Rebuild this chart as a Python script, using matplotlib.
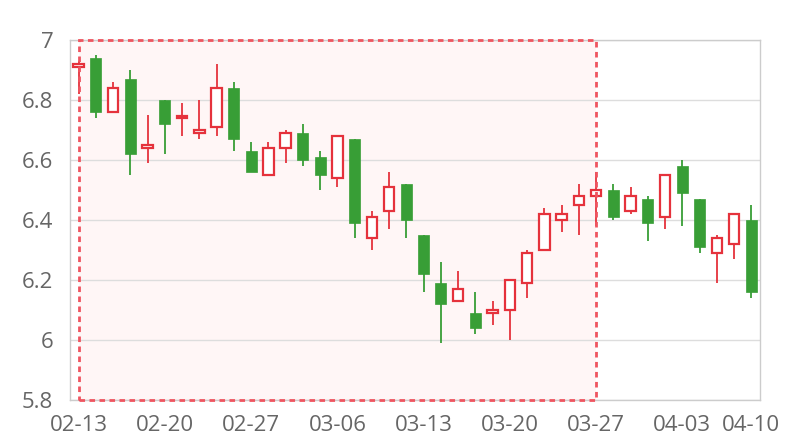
import matplotlib.pyplot as plt
from matplotlib.patches import Rectangle

plt.rcParams['font.family'] = ['Open Sans', 'DejaVu Sans']

dates = ['02-13', '02-14', '02-15', '02-16', '02-17',
         '02-20', '02-21', '02-22', '02-23', '02-24',
         '02-27', '02-28', '03-01', '03-02', '03-03',
         '03-06', '03-07', '03-08', '03-09', '03-10',
         '03-13', '03-14', '03-15', '03-16', '03-17',
         '03-20', '03-21', '03-22', '03-23', '03-24',
         '03-27', '03-28', '03-29', '03-30', '03-31',
         '04-03', '04-05', '04-06', '04-07', '04-10']

opens = [6.91, 6.94, 6.76, 6.87, 6.64, 6.80, 6.74, 6.69, 6.71, 6.84,
         6.63, 6.55, 6.64, 6.69, 6.61, 6.54, 6.67, 6.34, 6.43, 6.52,
         6.35, 6.19, 6.13, 6.09, 6.09, 6.10, 6.19, 6.30, 6.40, 6.45,
         6.48, 6.50, 6.43, 6.47, 6.41, 6.58, 6.47, 6.29, 6.32, 6.40]
closes = [6.92, 6.76, 6.84, 6.62, 6.65, 6.72, 6.745, 6.70, 6.84, 6.67,
          6.56, 6.64, 6.69, 6.60, 6.55, 6.68, 6.39, 6.41, 6.51, 6.40,
          6.22, 6.12, 6.17, 6.04, 6.10, 6.20, 6.29, 6.42, 6.42, 6.48,
          6.50, 6.41, 6.48, 6.39, 6.55, 6.49, 6.31, 6.34, 6.42, 6.16]
highs = [6.93, 6.95, 6.86, 6.90, 6.75, 6.80, 6.79, 6.80, 6.92, 6.86,
         6.66, 6.66, 6.70, 6.72, 6.63, 6.68, 6.67, 6.43, 6.56, 6.52,
         6.35, 6.26, 6.23, 6.16, 6.13, 6.20, 6.30, 6.44, 6.45, 6.52,
         6.56, 6.52, 6.51, 6.48, 6.55, 6.60, 6.47, 6.35, 6.42, 6.45]
lows = [6.82, 6.74, 6.76, 6.55, 6.59, 6.62, 6.68, 6.67, 6.68, 6.63,
        6.56, 6.55, 6.59, 6.58, 6.50, 6.51, 6.34, 6.30, 6.37, 6.34,
        6.16, 5.99, 6.13, 6.02, 6.05, 6.00, 6.14, 6.30, 6.36, 6.35,
        6.38, 6.40, 6.42, 6.33, 6.37, 6.38, 6.29, 6.19, 6.27, 6.14]

label_idx = [0, 5, 10, 15, 20, 25, 30, 35, 39]
mark_start, mark_end = '02-13', '03-27'

up_color = '#e5323c'
down_color = '#389e36'

fig = plt.figure(figsize=(8, 4.4), dpi=100)
ax = fig.add_axes([0.0875, 0.0909, 0.8625, 0.8182])

x = list(range(len(dates)))

# mark area: fill under the grid, dashed border on top
x0 = dates.index(mark_start)
x1 = dates.index(mark_end)
ax.add_patch(Rectangle((x0, 5.8), x1 - x0, 1.2, facecolor='#fff6f6',
                       edgecolor='none', zorder=0.2))
ax.add_patch(Rectangle((x0, 5.8), x1 - x0, 1.2, facecolor='none',
                       edgecolor='#ef5560', linestyle=(0, (2, 1.6)),
                       linewidth=2, zorder=4, clip_on=False))

for i in x:
    o, c, h, l = opens[i], closes[i], highs[i], lows[i]
    up = c >= o
    col = up_color if up else down_color
    ax.vlines(i, l, h, color=col, linewidth=1.3, zorder=2)
    bot = min(o, c)
    hgt = max(abs(c - o), 0.004)
    if up:
        ax.bar(i, hgt, bottom=bot, width=0.6, facecolor='white',
               edgecolor=col, linewidth=1.6, zorder=3)
    else:
        ax.bar(i, hgt, bottom=bot, width=0.64, facecolor=col,
               edgecolor=col, linewidth=0.5, zorder=3)

ax.set_xlim(-0.5, len(dates) - 0.5)
ax.set_ylim(5.8, 7.0)
yt = [5.8, 6.0, 6.2, 6.4, 6.6, 6.8, 7.0]
ax.set_yticks(yt)
ax.set_yticklabels(['5.8', '6', '6.2', '6.4', '6.6', '6.8', '7'])
ax.set_xticks(label_idx)
ax.set_xticklabels([dates[i] for i in label_idx])
ax.tick_params(axis='both', length=0, labelsize=16, colors='#666666')
ax.tick_params(axis='y', pad=12)
ax.tick_params(axis='x', pad=11)
ax.grid(axis='y', color='#dddddd', linewidth=1, zorder=0.5)
ax.set_axisbelow(True)
for s in ax.spines.values():
    s.set_color('#cccccc')
    s.set_linewidth(1)

fig.savefig('out.png', dpi=100)
